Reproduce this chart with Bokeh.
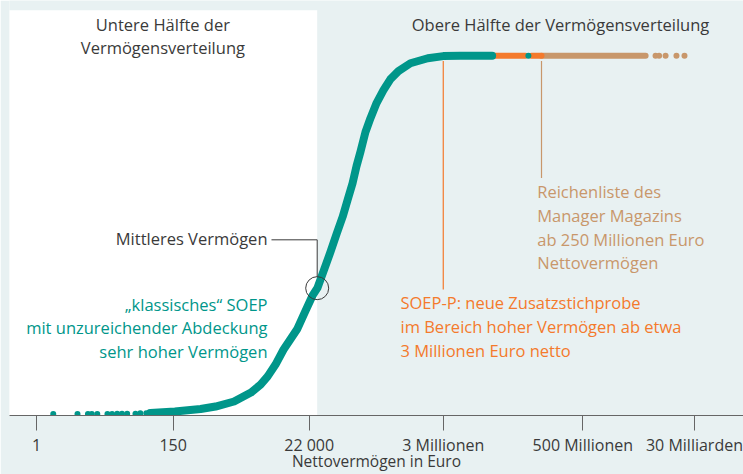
from bokeh.plotting import figure
from bokeh.models import FixedTicker, CustomJSTickFormatter
from bokeh.core.properties import value
from bokeh.embed import file_html
from bokeh.resources import INLINE

# ---------------- data ----------------
# x: Nettovermögen in Euro (log scale), y: cumulative share of persons
tail_wealth = [1.85, 4.5, 6.6, 7.6, 9.3, 13.5, 16, 19.3, 23, 27.8, 37.7, 45, 56, 65]
tail_rank = [0.001, 0.001, 0.001, 0.001, 0.001, 0.001, 0.001, 0.002, 0.002, 0.002,
             0.002, 0.003, 0.003, 0.004]

curve_wealth = [65, 160, 410, 710, 1400, 2600, 3700, 4800, 6400, 8600, 11000, 14300,
                19200, 24800, 29800, 37000, 48000, 60000, 75000, 90000, 108000, 125000,
                144000, 173000, 208000, 260000, 335000, 433000, 580000, 900000,
                1700000, 3000000, 5600000, 18000000]
curve_rank = [0.004, 0.008, 0.015, 0.022, 0.036, 0.061, 0.083, 0.106, 0.139, 0.181,
              0.209, 0.239, 0.289, 0.331, 0.353, 0.398, 0.453, 0.503, 0.551, 0.598,
              0.645, 0.693, 0.732, 0.787, 0.826, 0.868, 0.904, 0.935, 0.957, 0.979,
              0.993, 0.999, 1.000, 1.000]

soep_p_from = [1.8e7, 7.6e7]
soep_p_to = [6.1e7, 1.1e8]
soep_p_rank = [1.0, 1.0]
soep_extra_wealth = [6.8e7]
soep_extra_rank = [1.0]

rich_from = [1.1e8]
rich_to = [5.0e9]
rich_rank = [1.0]
rich_dots_wealth = [7.2e9, 8.2e9, 1.04e10, 1.55e10, 2.08e10]
rich_dots_rank = [1.0, 1.0, 1.0, 1.0, 1.0]

median_wealth = 29500
median_rank = 0.352
soep_p_threshold = 3e6
rich_threshold = 1.1e8

tick_values = [1, 150, 22000, 3e6, 5e8, 3e10]
tick_labels = ["1", "150", "22\u00a0000", "3 Millionen", "500 Millionen", "30 Milliarden"]

lower_title = ["Untere Hälfte der", "Vermögensverteilung"]
upper_title = ["Obere Hälfte der Vermögensverteilung"]
median_label = ["Mittleres Vermögen"]
soep_label = ["„klassisches“ SOEP", "mit unzureichender Abdeckung", "sehr hoher Vermögen"]
soep_p_label = ["SOEP-P: neue Zusatzstichprobe", "im Bereich hoher Vermögen ab etwa",
                "3 Millionen Euro netto"]
rich_label = ["Reichenliste des", "Manager Magazins", "ab 250 Millionen Euro",
              "Nettovermögen"]
x_title = "Nettovermögen in Euro"

# ---------------- styles ----------------
BG = "#e8f1f2"
TEAL = "#00968a"
ORANGE = "#f47a2c"
TAN = "#c8976b"
DARK = "#3a3a3a"
FONT = "Open Sans"
FS = "16.5px"

p = figure(width=743, height=474, x_axis_type="log",
           x_range=(0.372, 1.81e11), y_range=(-0.003, 1.154),
           output_backend="svg", toolbar_location=None,
           background_fill_color=BG, border_fill_color=BG,
           min_border_left=9, min_border_right=0, min_border_top=0,
           min_border_bottom=58, y_axis_location=None)
p.outline_line_color = None
p.grid.visible = False

# white panel: lower half
p.quad(left=0.3, right=median_wealth, bottom=-0.01, top=1.1266,
       fill_color="white", line_color=None)

# leader lines
p.segment(x0=[soep_p_threshold], y0=[0.985], x1=[soep_p_threshold], y1=[0.348],
          line_color=ORANGE, line_width=1.2)
p.segment(x0=[rich_threshold], y0=[0.985], x1=[rich_threshold], y1=[0.659],
          line_color=TAN, line_width=1.2)

# plateau bands
p.segment(x0=rich_from, y0=rich_rank, x1=rich_to, y1=rich_rank,
          line_color=TAN, line_width=6, line_cap="round")
p.scatter(rich_dots_wealth, rich_dots_rank, size=6, fill_color=TAN, line_color=None)
p.segment(x0=soep_p_from, y0=soep_p_rank, x1=soep_p_to, y1=soep_p_rank,
          line_color=ORANGE, line_width=6, line_cap="round")
p.scatter(soep_extra_wealth, soep_extra_rank, size=6, fill_color=TEAL, line_color=None)

# SOEP curve
p.line(curve_wealth, curve_rank, line_color=TEAL, line_width=8,
       line_cap="round", line_join="round")
p.scatter(tail_wealth, tail_rank, size=6, fill_color=TEAL, line_color=None)

# median marker
p.line([5520, median_wealth, median_wealth], [0.4868, 0.4868, 0.3839],
       line_color=DARK, line_width=1)
p.scatter([median_wealth], [median_rank], size=23, fill_color=None,
          line_color=DARK, line_width=1)


def block(lines, x, y, color, align, spacing):
    for i, t in enumerate(lines):
        p.text(x=[x], y=[y], text=[t], text_color=color, text_align=align,
               text_baseline="middle", text_font=value(FONT),
               text_font_size=FS, y_offset=i * spacing)


block(lower_title, 103, 1.0876, DARK, "center", 23)
block(upper_title, 2.21e8, 1.0876, DARK, "center", 23)
block(median_label, 4770, 0.4896, DARK, "right", 23)
block(soep_label, 4770, 0.306, TEAL, "right", 23.3)
block(soep_p_label, 625000, 0.3115, ORANGE, "left", 24)
block(rich_label, 9.4e7, 0.621, TAN, "left", 23.7)

ax = p.xaxis[0]
ax.ticker = FixedTicker(ticks=tick_values)
ax.formatter = CustomJSTickFormatter(args=dict(tvals=tick_values, tlabels=tick_labels), code="""
    for (let i = 0; i < tvals.length; i++) {
        if (Math.abs(Math.log10(tvals[i]) - Math.log10(tick)) < 1e-6) return tlabels[i];
    }
    return "";
""")
ax.axis_line_color = "#666666"
ax.major_tick_line_color = "#666666"
ax.major_tick_out = 15
ax.major_tick_in = 0
ax.minor_tick_line_color = None
ax.major_label_standoff = 3
ax.major_label_text_font = FONT
ax.major_label_text_font_size = "16px"
ax.major_label_text_color = DARK
ax.major_label_text_line_height = 1.0
ax.axis_label = x_title
ax.axis_label_standoff = -9
ax.axis_label_text_font = FONT
ax.axis_label_text_font_size = "15.5px"
ax.axis_label_text_font_style = "normal"
ax.axis_label_text_color = DARK
ax.axis_label_text_line_height = 1.0

open("out.html", "w").write(file_html(p, INLINE))
